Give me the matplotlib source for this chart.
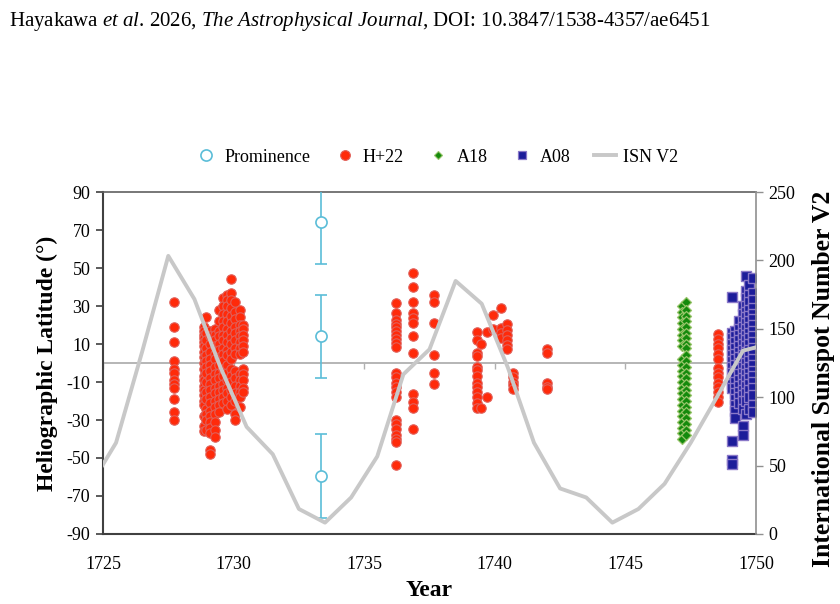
import numpy as np
import matplotlib
matplotlib.use("Agg")
import matplotlib.pyplot as plt
from matplotlib.lines import Line2D

plt.rcParams["font.family"] = ["Liberation Serif", "DejaVu Serif"]
plt.rcParams["mathtext.fontset"] = "custom"
plt.rcParams["mathtext.rm"] = "Liberation Serif"
plt.rcParams["mathtext.it"] = "Liberation Serif:italic"
plt.rcParams["axes.unicode_minus"] = False

# ISN V2 yearly means (plotted at mid-year)
isn_years = np.arange(1724.5, 1751.0, 1.0)
isn_values = [35.0, 66.7, 133.3, 203.3, 171.7, 121.7, 78.3, 58.3, 18.3, 8.3,
              26.7, 56.7, 116.7, 135.0, 185.0, 168.3, 121.7, 66.7, 33.3, 26.7,
              8.3, 18.3, 36.7, 66.7, 100.0, 134.0, 139.0]

# prominence records
prom_years = [1733.33, 1733.33, 1733.33]
prom_lats = [74, 14, -59.5]
prom_err = [22, 22, 22]

# H+22 sunspot latitudes, grouped by observing epoch
h22_years = [1727.7, 1728.85, 1728.95, 1729.1, 1729.3, 1729.45, 1729.6, 1729.75,
             1729.9, 1730.05, 1730.25, 1730.35,
             1736.22, 1736.88, 1737.68, 1739.33, 1739.47, 1739.71, 1739.94,
             1740.22, 1740.48, 1740.71, 1741.99, 1748.55]
h22_lats = [
    [32, 19, 11, 1, -3, -5, -9, -11, -13, -19, -26, -30],
    [19, 17, 15, 13, 11, 9, 6, 3, 0, -3, -7, -9, -12, -14, -17, -20, -22, -28, -33, -36],
    [24, 16, 12, 8, 4, 1, -2, -5, -10, -15, -19, -24, -27, -30, -35],
    [17, 14, 10, 6, 2, -1, -4, -8, -11, -14, -18, -21, -25, -28, -31, -34, -37, -46, -48],
    [18, 15, 12, 9, 5, 2, -2, -6, -9, -13, -16, -20, -23, -27, -31, -35, -39],
    [28, 22, 17, 14, 10, 7, 3, -1, -5, -8, -12, -15, -19, -22, -26],
    [34, 30, 26, 22, 19, 15, 12, 8, 5, 1, -3, -7, -11, -14, -18, -21],
    [36, 33, 30, 26, 22, 18, 15, 11, 7, 4, -1, -5, -9, -13, -16, -20, -24],
    [44, 37, 33, 29, 25, 21, 17, 13, 10, 6, 2, -3, -7, -10, -14, -18, -22],
    [32, 27, 23, 19, 16, 12, 8, 5, -4, -8, -12, -16, -20, -27, -30],
    [28, 24, 20, 17, 14, 11, 8, 5, -6, -9, -12, -15, -18, -23],
    [20, 18, 15, 12, 9, 6, -3, -6, -9, -13, -15],
    [31.7, 26.5, 22.6, 20.5, 18.8, 16.8, 14.7, 12.5, 10.4, 8.6, -5.1, -7.5, -10.7,
     -12.5, -15.1, -17.7, -30, -32, -34.9, -37.9, -40, -41.4, -53.7],
    [47.2, 40.2, 32.3, 26.5, 23.5, 20.9, 14.2, 5.1, -16.5, -20.7, -23.9, -34.7],
    [35.8, 32.3, 21.2, 4.0, -5.1, -11.0],
    [16.5, 12.1, 5.4, 3.7, -1.9, -3.6, -6.8, -10.4, -12.5, -15.1, -17.7, -20.9, -23.9],
    [10.0, -23.9],
    [16.5, -17.7],
    [25.3, 17.7],
    [29.1, 18.2, 15.6, 13.0],
    [20.5, 17.4, 14.7, 12.1, 9.5, 7.2],
    [-5.4, -7.6, -9.8, -11.6, -13.9],
    [7.2, 5.4, -10.7, -12.5, -13.9],
    [15.3, 12.6, 10.2, 7.7, 5.0, 2.1, -2.8, -5.4, -7.6, -10.4, -12.6, -15.1, -17.7, -20.4],
]

# A18 latitudes
a18_years = [1747.15, 1747.32]
a18_lats = [
    [30, 27, 24, 21, 18, 15, 12, 9, 2, -1, -4, -7, -10, -13, -16, -19, -22, -25,
     -28, -31, -34, -37, -40],
    [32, 28, 25, 22, 19, 16, 13, 10, 8, 4, 1, -2, -5, -8, -11, -14, -17, -20,
     -23, -26, -29, -32, -35, -38],
]

# A08 latitudes
a08_years = [1749.08, 1749.2, 1749.35, 1749.5, 1749.62, 1749.75, 1749.9]
a08_lats = [
    [35, 16, 13, 10, 7, 4, 1, -2, -5, -8, -11, -13, -41, -51, -53],
    [17, 14, 11, 8, 5, 2, -1, -4, -7, -10, -13, -16, -19, -22, -25, -29],
    [22, 18, 15, 12, 9, 6, 3, 0, -3, -6, -9, -12, -15, -18, -21],
    [30, 26, 22, 19, 16, 13, 10, 7, 4, 1, -2, -5, -8, -11, -14, -17, -20, -24, -33, -38],
    [46, 38, 34, 30, 27, 24, 21, 18, 15, 12, 9, 6, 3, 0, -3, -6, -9, -12, -16, -20, -27],
    [41, 36, 32, 28, 25, 22, 19, 16, 13, 10, 7, 4, 1, -2, -5, -8, -11, -14, -18, -24],
    [45, 37, 33, 29, 26, 23, 20, 17, 14, 11, 8, 5, 2, -1, -4, -7, -10, -13, -17, -22, -26],
]

lat_ticks = np.arange(-90, 91, 20)
isn_ticks = np.arange(0, 251, 50)
year_ticks = np.arange(1725, 1751, 5)


def flatten(years, lats):
    xs = np.concatenate([[y] * len(l) for y, l in zip(years, lats)])
    ys = np.concatenate(lats)
    return xs, ys


red, red_edge = "#ff2a0a", "#e0605a"
green, green_edge = "#148a0c", "#98c46a"
blue, blue_edge = "#1c1c9a", "#8a78c8"
cyan = "#5bbdd8"
gray = "#c8c8c8"

fig = plt.figure(figsize=(8.4, 6.04), dpi=100)
ax = fig.add_axes([0.1226, 0.1159, 0.7774, 0.5662])

ax.axhline(0, color="#b0b0b0", lw=1.3, zorder=1)
ax.plot(year_ticks, np.zeros(len(year_ticks)), ls="none", marker=3, ms=4,
        mew=1.0, color="#b0b0b0", zorder=1)

x, y = flatten(h22_years, h22_lats)
ax.scatter(x, y, s=46, c=red, edgecolors=red_edge, linewidths=0.8, zorder=3)
x, y = flatten(a18_years, a18_lats)
ax.scatter(x, y, s=26, marker="D", c=green, edgecolors=green_edge, linewidths=0.9, zorder=3)
x, y = flatten(a08_years, a08_lats)
ax.scatter(x, y, s=48, marker="s", c=blue, edgecolors=blue_edge, linewidths=1.0, zorder=3)
ax.errorbar(prom_years, prom_lats, yerr=prom_err, fmt="o", ms=8, mfc="white",
            mec=cyan, mew=1.2, ecolor=cyan, elinewidth=1.2, capsize=4, capthick=1.2,
            zorder=4)

ax.set_xlim(1725, 1750)
ax.set_ylim(-90, 90)
ax.set_xticks(year_ticks)
ax.set_yticks(lat_ticks)
ax.tick_params(axis="x", length=0, labelsize=13, pad=16)
ax.tick_params(axis="y", direction="out", length=5, width=1.2, color="#404040",
               labelsize=13, pad=4)
for side in ["left", "bottom"]:
    ax.spines[side].set_color("#404040")
    ax.spines[side].set_linewidth(1.5)
ax.spines["top"].set_color("#606060")
ax.spines["top"].set_linewidth(1.2)
ax.spines["right"].set_visible(False)
ax.set_xlabel("Year", fontsize=17, fontweight="bold", labelpad=5)
ax.set_ylabel("Heliographic Latitude (°)", fontsize=17, fontweight="bold", labelpad=6)

ax2 = ax.twinx()
ax2.plot(isn_years, isn_values, color=gray, lw=2.8, zorder=5, clip_on=True)
ax2.set_ylim(0, 250)
ax2.set_yticks(isn_ticks)
ax2.tick_params(axis="y", direction="out", length=5, width=1.0, color="#909090",
                labelsize=13, pad=4)
for side in ["left", "bottom", "top"]:
    ax2.spines[side].set_visible(False)
ax2.spines["right"].set_color("#909090")
ax2.spines["right"].set_linewidth(1.2)
ax2.set_ylabel("International Sunspot Number V2", fontsize=18.5, fontweight="bold")
ax2.yaxis.set_label_coords(1.086, 0.455)

handles = [
    Line2D([], [], ls="none", marker="o", ms=8, mfc="white", mec=cyan, mew=1.2),
    Line2D([], [], ls="none", marker="o", ms=7, mfc=red, mec=red_edge, mew=0.8),
    Line2D([], [], ls="none", marker="D", ms=4.5, mfc=green, mec=green_edge, mew=0.8),
    Line2D([], [], ls="none", marker="s", ms=6, mfc=blue, mec=blue_edge, mew=0.9),
    Line2D([], [], color=gray, lw=2.8),
]
labels = ["Prominence", "H+22", "A18", "A08", "ISN V2"]
fig.legend(handles, labels, loc="center", bbox_to_anchor=(0.52, 0.74), ncol=5,
           frameon=False, fontsize=13, handlelength=1.2, handletextpad=0.4,
           columnspacing=1.3)

fig.text(0.011, 0.965,
         r"Hayakawa $\mathit{et\ al}$. 2026, $\mathit{The\ Astrophysical\ Journal}$,"
         r" DOI: 10.3847/1538-4357/ae6451",
         fontsize=15, ha="left", va="center")

fig.savefig("out.png", dpi=100)
